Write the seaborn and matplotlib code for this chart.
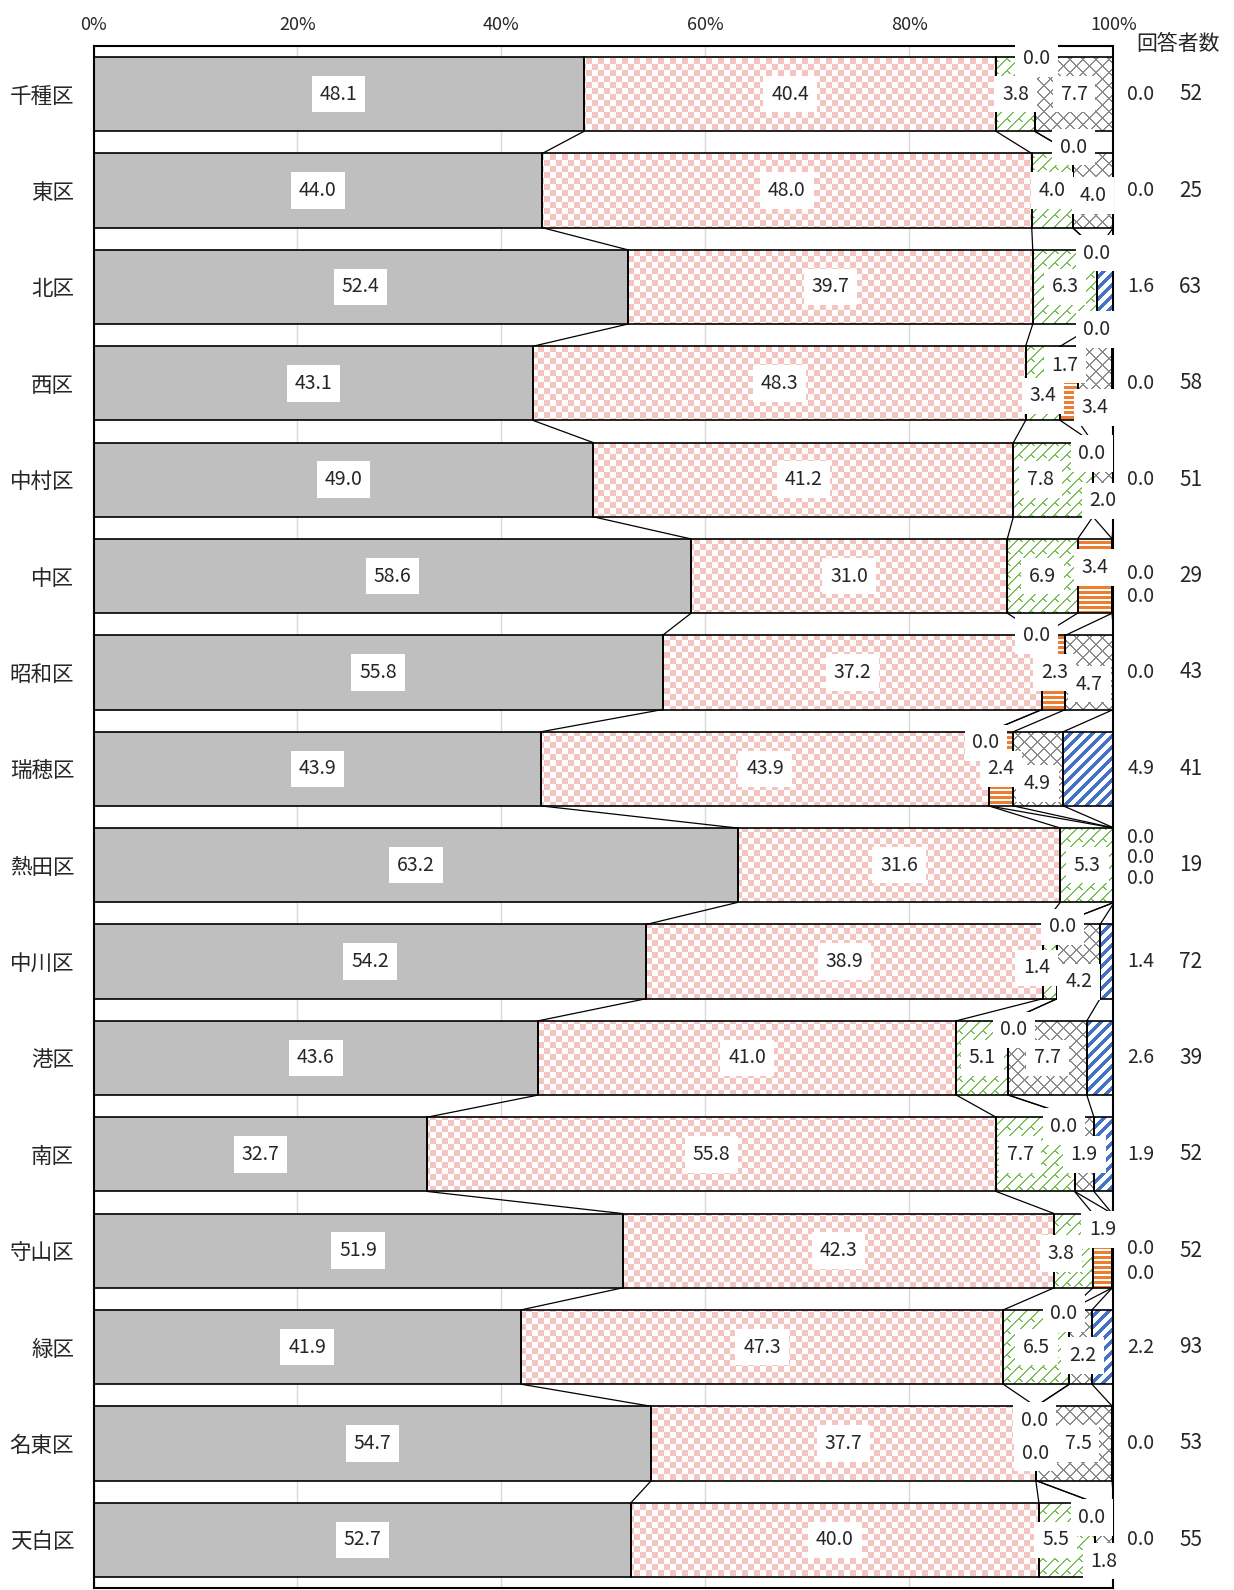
import matplotlib
matplotlib.use("Agg")
import matplotlib.pyplot as plt
import matplotlib.colors as mcolors
import numpy as np
import seaborn as sns
from matplotlib.path import Path

# --------------------------------------------------------------
# Data (percent of respondents per ward)
# --------------------------------------------------------------
wards = ["千種区", "東区", "北区", "西区", "中村区", "中区", "昭和区", "瑞穂区",
         "熱田区", "中川区", "港区", "南区", "守山区", "緑区", "名東区", "天白区"]
s1 = [48.1, 44.0, 52.4, 43.1, 49.0, 58.6, 55.8, 43.9, 63.2, 54.2, 43.6, 32.7, 51.9, 41.9, 54.7, 52.7]
s2 = [40.4, 48.0, 39.7, 48.3, 41.2, 31.0, 37.2, 43.9, 31.6, 38.9, 41.0, 55.8, 42.3, 47.3, 37.7, 40.0]
s3 = [3.8, 4.0, 6.3, 3.4, 7.8, 6.9, 0.0, 0.0, 5.3, 1.4, 5.1, 7.7, 3.8, 6.5, 0.0, 5.5]
s4 = [0.0, 0.0, 0.0, 1.7, 0.0, 3.4, 2.3, 2.4, 0.0, 0.0, 0.0, 0.0, 1.9, 0.0, 0.0, 0.0]
s5 = [7.7, 4.0, 0.0, 3.4, 2.0, 0.0, 4.7, 4.9, 0.0, 4.2, 7.7, 1.9, 0.0, 2.2, 7.5, 1.8]
s6 = [0.0, 0.0, 1.6, 0.0, 0.0, 0.0, 0.0, 4.9, 0.0, 1.4, 2.6, 1.9, 0.0, 2.2, 0.0, 0.0]
counts = [52, 25, 63, 58, 51, 29, 43, 41, 19, 72, 39, 52, 52, 93, 53, 55]
xticks = [0, 20, 40, 60, 80, 100]

series = [s1, s2, s3, s4, s5, s6]

# --------------------------------------------------------------
# Styling
# --------------------------------------------------------------
GRAY = "#bfbfbf"
PINK = "#f4c4c1"
GREEN = "#7cc05a"
ORANGE = "#ed7d31"
CROSS = "#8c8c8c"
BLUE = "#4472c4"
GRID = "#d9d9d9"

sns.set_style("white")
plt.rcParams["font.family"] = ["Noto Sans CJK JP", "DejaVu Sans"]

# label layout tweaks for the narrow segments: (ward, series) -> (dx %, dy rows)
label_nudge = {
    (0, 3): (0.15, -0.37), (1, 3): (0.1, -0.45), (1, 4): (0, 0.05),
    (2, 3): (0, -0.35), (2, 4): (0, 0.44),
    (3, 2): (0, 0.13), (3, 3): (-0.4, -0.19), (3, 4): (0, 0.25),
    (4, 2): (-1.25, 0), (4, 3): (-0.1, -0.27), (4, 4): (0, 0.22),
    (5, 3): (0, -0.09),
    (6, 2): (-0.55, -0.385), (6, 3): (0.1, 0), (6, 4): (0, 0.12),
    (7, 2): (-0.3, -0.27), (7, 4): (-0.1, 0.15),
    (9, 2): (-1.35, 0.065), (9, 3): (0.55, -0.36), (9, 4): (0, 0.21),
    (10, 3): (0.55, -0.29),
    (11, 2): (-1.5, 0), (11, 3): (-1.05, -0.29),
    (12, 2): (-1.25, 0.03), (12, 3): (0, -0.22),
    (13, 3): (-0.55, -0.35), (13, 4): (0.2, 0.09),
    (14, 2): (-0.15, -0.24), (14, 3): (-0.05, 0.10), (14, 4): (0.4, 0),
    (15, 2): (-1.1, 0), (15, 3): (-0.3, -0.23), (15, 4): (0, 0.22),
}
# labels put in the column right of the plot: (ward, series) -> dy rows
right_labels = {
    (5, 4): -0.03, (5, 5): 0.21,
    (8, 3): -0.29, (8, 4): -0.08, (8, 5): 0.14,
    (12, 4): -0.02, (12, 5): 0.24,
}
RIGHT_X = 102.7
COUNT_X = 107.6
BAR_W = 0.77

# --------------------------------------------------------------
# Figure
# --------------------------------------------------------------
fig = plt.figure(figsize=(12.34, 15.90), dpi=100)
ax = fig.add_axes([0.0758, 0.00126, 0.8264, 0.9698])

left = np.zeros(len(wards))
bar_groups = []
fills = [GRAY, "white", "white", "white", "white", "white"]
for k, vals in enumerate(series):
    sns.barplot(x=vals, y=wards, orient="y", left=left.copy(), color=fills[k],
                width=BAR_W, edgecolor="black", linewidth=1.2, errorbar=None,
                ax=ax, zorder=2)
    bar_groups.append(list(ax.patches[-len(wards):]))
    left += np.array(vals)

ax.set_xlim(0, 100)
ax.set_ylim(len(wards) - 0.5, -0.5)

# pattern fills, pixel-sized tiles clipped to the bars of each series
H, W = 1542, 1020
yy, xx = np.mgrid[0:H, 0:W]


def paint(mask, color):
    img = np.ones((H, W, 3))
    img[mask] = mcolors.to_rgb(color)
    return img


patterns = {
    1: paint(((xx // 6) + (yy // 6)) % 2 == 0, PINK),
    2: paint((((xx + yy) % 12) < 2) | ((((xx - yy) % 12) < 2) & ((yy % 12) < 4)), GREEN),
    3: paint((yy % 5) < 3, ORANGE),
    4: paint((((xx + yy) % 13) < 2) | (((xx - yy) % 13) < 2), CROSS),
    5: paint(((xx + yy) % 11) < 5, BLUE),
}
for k, img in patterns.items():
    for p in bar_groups[k]:
        p.set_facecolor("none")
    paths = [p.get_path().transformed(p.get_patch_transform()) for p in bar_groups[k]]
    clip = Path.make_compound_path(*paths)
    im = ax.imshow(img, extent=(0, 100, len(wards) - 0.5, -0.5), aspect="auto",
                   interpolation="nearest", zorder=1.5)
    im.set_clip_path(clip, ax.transData)

ax.set_xlim(0, 100)
ax.set_ylim(len(wards) - 0.5, -0.5)

# series lines between consecutive bars
cum = np.cumsum(np.array(series), axis=0)
for k in range(len(series)):
    for i in range(len(wards) - 1):
        ax.plot([cum[k][i], cum[k][i + 1]], [i + BAR_W / 2, i + 1 - BAR_W / 2],
                color="black", lw=0.9, zorder=3, solid_capstyle="butt")

# data labels
box = dict(boxstyle="square,pad=0.4", fc="white", ec="none")
for i in range(len(wards)):
    for k, vals in enumerate(series):
        v = vals[i]
        if (i, k) in right_labels or (k == 5 and (i, k) not in label_nudge):
            ax.text(RIGHT_X, i + right_labels.get((i, k), 0), f"{v:.1f}",
                    ha="center", va="center", fontsize=14, zorder=5, clip_on=False)
        else:
            dx, dy = label_nudge.get((i, k), (0, 0))
            ax.text(cum[k][i] - v / 2 + dx, i + dy, f"{v:.1f}", ha="center",
                    va="center", fontsize=14, bbox=box, zorder=5, clip_on=False)
    ax.text(COUNT_X, i, str(counts[i]), ha="center", va="center", fontsize=15,
            clip_on=False)

ax.text(106.3, -0.52, "回答者数", ha="center", va="center", fontsize=15, clip_on=False)

# axes cosmetics
ax.set_xticks(xticks)
ax.set_xticklabels([f"{t}%" for t in xticks])
ax.xaxis.tick_top()
ax.tick_params(axis="x", length=0, pad=9, labelsize=13)
ax.tick_params(axis="y", length=0, pad=14, labelsize=15.5)
ax.set_xlabel("")
ax.set_ylabel("")
ax.xaxis.grid(True, color=GRID, lw=1)
ax.set_axisbelow(True)
for side in ["top", "bottom", "left", "right"]:
    ax.spines[side].set_visible(True)
    ax.spines[side].set_color("black")
    ax.spines[side].set_linewidth(1.5)
    ax.spines[side].set_zorder(4)

fig.savefig("out.png", dpi=100)
